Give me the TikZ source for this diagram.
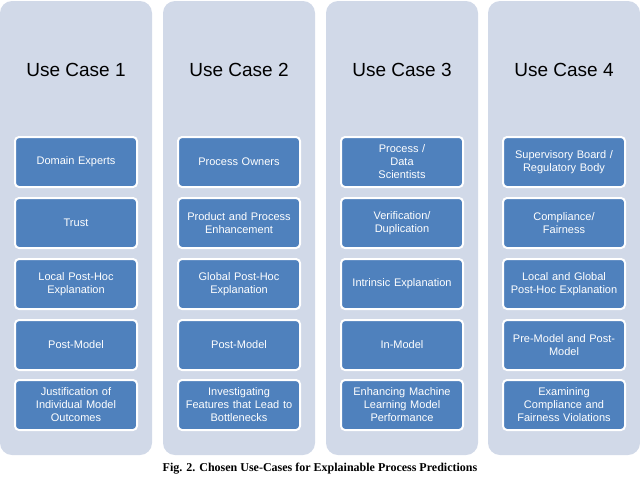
\documentclass[tikz,border=0pt]{standalone}
\usepackage{fontspec}
\setmainfont{Liberation Serif}
\newfontfamily\arialf{Liberation Sans}
\definecolor{colbg}{HTML}{D1D9E8}
\definecolor{boxbl}{HTML}{4F81BD}
\begin{document}
\begin{tikzpicture}[x=1pt,y=-1pt,
  title/.style={font=\arialf\fontsize{19}{22}\selectfont, text=black},
  item/.style={fill=boxbl, draw=white, line width=2pt, rounded corners=4pt,
    minimum width=122pt, minimum height=50pt, text width=116pt, align=center,
    text=white, font=\arialf\fontsize{11}{13}\selectfont, inner sep=1pt},
  figcap/.style={font=\fontsize{12}{14}\selectfont}]
\useasboundingbox (0,0) rectangle (640,480);
\foreach \i/\x in {1/0,2/163,3/326,4/488}{
  \fill[colbg, rounded corners=12pt] (\x,1) rectangle ++(152,454);
  \node[title] (t\i) at (\x+76,70) {Use Case \i};
}
% column 1
\node[item] (a1) at (76,162) {Domain Experts};
\node[item] (a2) at (76,223) {Trust};
\node[item] (a3) at (76,284) {Local Post-Hoc\\Explanation};
\node[item] (a4) at (76,345) {Post-Model};
\node[item] (a5) at (76,405) {Justification of\\Individual Model\\Outcomes};
% column 2
\node[item] (b1) at (239,162) {Process Owners};
\node[item] (b2) at (239,223) {Product and Process\\Enhancement};
\node[item] (b3) at (239,284) {Global Post-Hoc\\Explanation};
\node[item] (b4) at (239,345) {Post-Model};
\node[item] (b5) at (239,405) {Investigating\\Features that Lead to\\Bottlenecks};
% column 3
\node[item] (c1) at (402,162) {Process /\\Data\\Scientists};
\node[item] (c2) at (402,223) {Verification/\\Duplication};
\node[item] (c3) at (402,284) {Intrinsic Explanation};
\node[item] (c4) at (402,345) {In-Model};
\node[item] (c5) at (402,405) {Enhancing Machine\\Learning Model\\Performance};
% column 4
\node[item] (d1) at (564,162) {Supervisory Board /\\Regulatory Body};
\node[item] (d2) at (564,223) {Compliance/\\Fairness};
\node[item] (d3) at (564,284) {Local and Global\\Post-Hoc Explanation};
\node[item] (d4) at (564,345) {Pre-Model and Post-\\Model};
\node[item] (d5) at (564,405) {Examining\\Compliance and\\Fairness Violations};
\node[figcap] (capt) at (320,469) {\textbf{Fig. 2.} \textbf{Chosen Use-Cases for Explainable Process Predictions}};
\end{tikzpicture}
\end{document}
